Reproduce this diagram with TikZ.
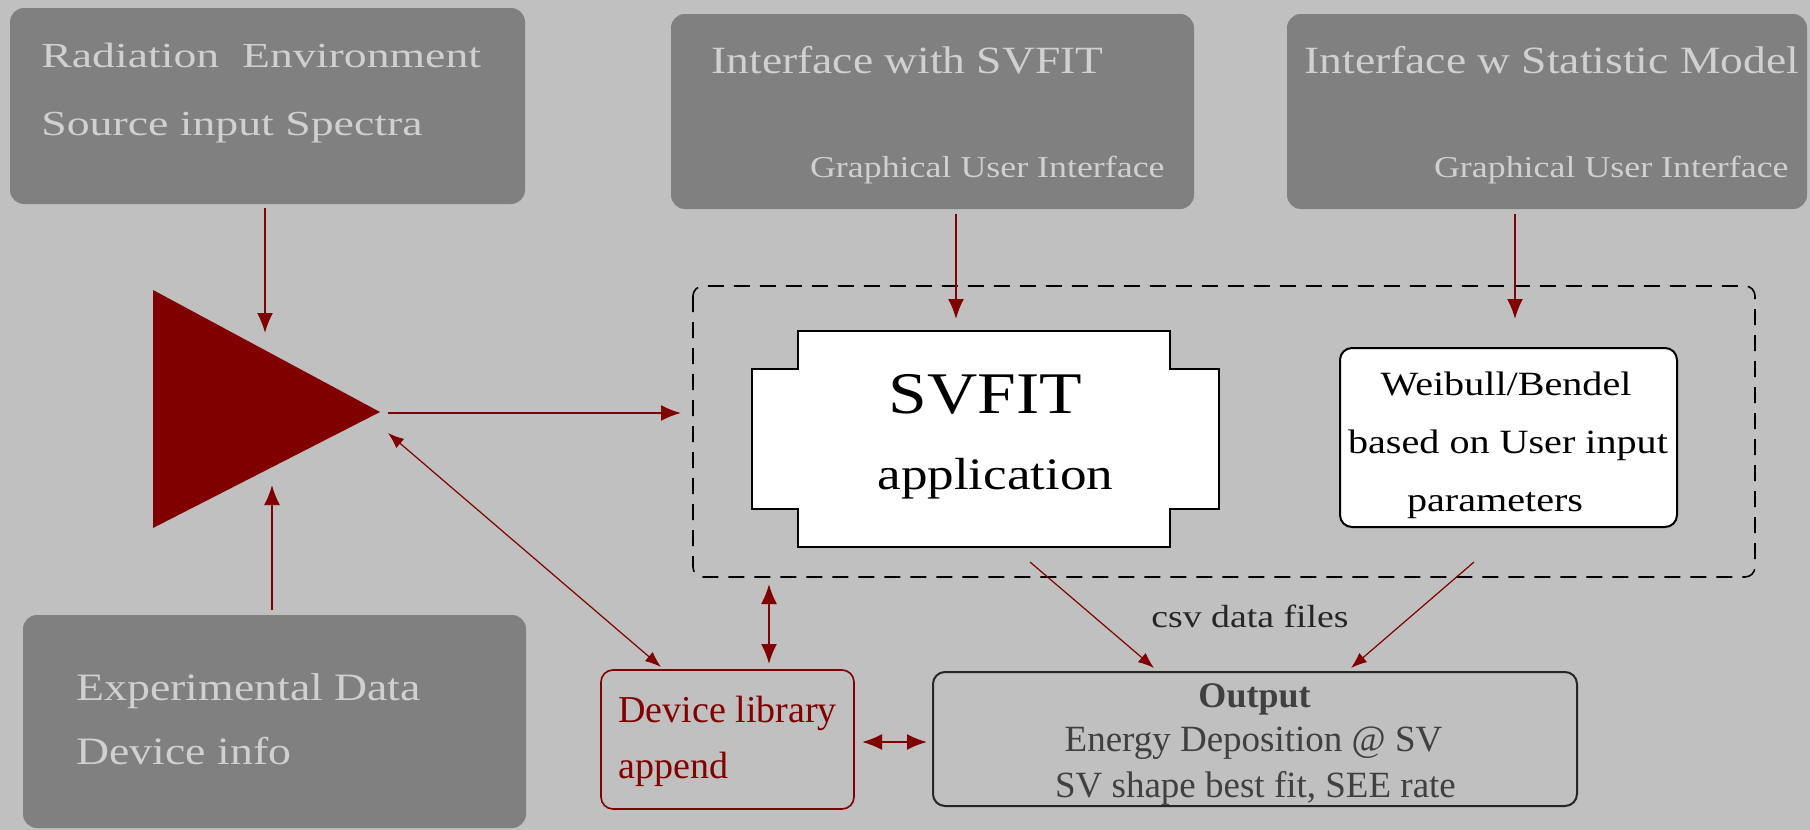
\documentclass[tikz,border=0pt]{standalone}
\usepackage{fontspec}
\setmainfont{Liberation Serif}
\newfontfamily\fA[FakeStretch=1.3]{Liberation Serif}
\newfontfamily\fB[FakeStretch=1.18]{Liberation Serif}
\usetikzlibrary{arrows.meta}
\definecolor{bg}{HTML}{C0C0C0}
\definecolor{gbox}{HTML}{808080}
\definecolor{ltxt}{HTML}{D0D0D0}
\definecolor{dred}{HTML}{800000}
\definecolor{otxt}{HTML}{404040}
\newcommand\fsz[1]{\fontsize{#1}{#1}\selectfont}
\begin{document}
\begin{tikzpicture}[x=0.5pt,y=-0.5pt,
  graybox/.style={fill=gbox, rounded corners=7pt, inner sep=0pt},
  ltext/.style={text=ltxt, inner sep=0pt, anchor=base west},
  txt/.style={inner sep=0pt, anchor=base},
  thickarr/.style={draw=dred, line width=1pt, -{Latex[length=10pt,width=8pt]}},
  thickdbl/.style={draw=dred, line width=1pt, {Latex[length=10pt,width=8pt]}-{Latex[length=10pt,width=8pt]}},
  thinarr/.style={draw=dred, line width=0.6pt, -{Latex[length=8pt,width=6pt]}},
  thindbl/.style={draw=dred, line width=0.6pt, {Latex[length=8pt,width=6pt]}-{Latex[length=8pt,width=6pt]}},
  whitebox/.style={fill=white, draw=black, line width=1pt, rounded corners=6pt, inner sep=0pt},
]
\useasboundingbox (0,0) rectangle (1810,830);
\fill[bg] (0,0) rectangle (1810,830);

% gray input boxes
\node[graybox, minimum width=257.5pt, minimum height=98pt] (box1) at (267.5,106) {};
\node[graybox, minimum width=261.5pt, minimum height=97.5pt] (box2) at (932.5,111.5) {};
\node[graybox, minimum width=260pt, minimum height=97.5pt] (box3) at (1547,111.5) {};
\node[graybox, minimum width=251.5pt, minimum height=106.5pt] (box4) at (274.5,721.5) {};

\node[ltext] (t1a) at (41,68) {\fA\fsz{17.6pt}Radiation\ \ Environment};
\node[ltext] (t1b) at (41,135) {\fA\fsz{17.6pt}Source input Spectra};
\node[ltext] (t2a) at (711,73) {\fB\fsz{19.3pt}Interface with SVFIT};
\node[ltext, anchor=base east] (t2b) at (1165,177) {\fB\fsz{15.2pt}Graphical User Interface};
\node[ltext] (t3a) at (1304,73) {\fB\fsz{19.3pt}Interface w Statistic Model};
\node[ltext, anchor=base east] (t3b) at (1789,177) {\fB\fsz{15.2pt}Graphical User Interface};
\node[ltext] (t4a) at (76,700) {\fB\fsz{19.4pt}Experimental Data};
\node[ltext] (t4b) at (76,764) {\fB\fsz{19.4pt}Device info};

% triangle
\fill[dred] (153,290) -- (380,412) -- (153,528) -- cycle;

% dashed region
\draw[black, line width=0.8pt, dash pattern=on 8pt off 5pt, rounded corners=5pt] (693,286) rectangle (1755,577);

% SVFIT application shape
\draw[fill=white, draw=black, line width=1pt] (798,331) -- (1170,331) -- (1170,369) -- (1219,369) -- (1219,509) -- (1170,509) -- (1170,547) -- (798,547) -- (798,509) -- (752,509) -- (752,369) -- (798,369) -- cycle;
\node[txt] (sv1) at (985.5,413) {\fB\fsz{29.5pt}SVFIT};
\node[txt] (sv2) at (995.5,489) {\fB\fsz{22.5pt}application};

% Weibull box
\node[whitebox, minimum width=168.5pt, minimum height=89.5pt] (wb) at (1508.5,437.5) {};
\node[txt] (w1) at (1506,395) {\fB\fsz{17pt}Weibull/Bendel};
\node[txt] (w2) at (1508,453) {\fB\fsz{17pt}based on User input};
\node[txt] (w3) at (1495,511) {\fB\fsz{17pt}parameters};

% device library
\node[draw=dred, line width=0.8pt, rounded corners=6pt, minimum width=126.5pt, minimum height=69.5pt, inner sep=0pt] (dev) at (727.5,739.5) {};
\node[inner sep=0pt, anchor=base west, text=dred] (d1) at (618,722) {\fsz{19pt}Device library};
\node[inner sep=0pt, anchor=base west, text=dred] (d2) at (618,778) {\fsz{19pt}append};

% output box
\node[draw=black!85, line width=1pt, rounded corners=6pt, minimum width=322pt, minimum height=67pt, inner sep=0pt] (out) at (1255,739) {};
\node[txt, text=otxt] (o1) at (1254.5,707) {\fsz{18pt}\bfseries Output};
\node[txt, text=otxt] (o2) at (1253.5,751) {\fsz{18.5pt}Energy Deposition @ SV};
\node[txt, text=otxt] (o3) at (1255.5,797) {\fsz{18.5pt}SV shape best fit, SEE rate};

\node[inner sep=0pt, anchor=base west, text=black!85] (csv) at (1151,627) {\fB\fsz{16pt}csv data files};

% connector coordinates
\coordinate (a1s) at (265,208);  \coordinate (a1e) at (265,333);
\coordinate (a2s) at (272,610);  \coordinate (a2e) at (272,485);
\coordinate (a3s) at (388,413);  \coordinate (a3e) at (681,413);
\coordinate (a4s) at (956,214);  \coordinate (a4e) at (956,319);
\coordinate (a5s) at (1515,214); \coordinate (a5e) at (1515,319);
\coordinate (a6s) at (388,433);  \coordinate (a6e) at (661,667);
\coordinate (a7s) at (769,584);  \coordinate (a7e) at (769,664);
\coordinate (a8s) at (862,742);  \coordinate (a8e) at (927,742);
\coordinate (a9s) at (1030,562); \coordinate (a9e) at (1154,668);
\coordinate (a10s) at (1474,562); \coordinate (a10e) at (1351,668);

\draw[thickarr] (a1s) -- (a1e);
\draw[thickarr] (a2s) -- (a2e);
\draw[thickarr] (a3s) -- (a3e);
\draw[thickarr] (a4s) -- (a4e);
\draw[thickarr] (a5s) -- (a5e);
\draw[thindbl] (a6s) -- (a6e);
\draw[thickdbl] (a7s) -- (a7e);
\draw[thickdbl] (a8s) -- (a8e);
\draw[thinarr] (a9s) -- (a9e);
\draw[thinarr] (a10s) -- (a10e);
\end{tikzpicture}
\end{document}
